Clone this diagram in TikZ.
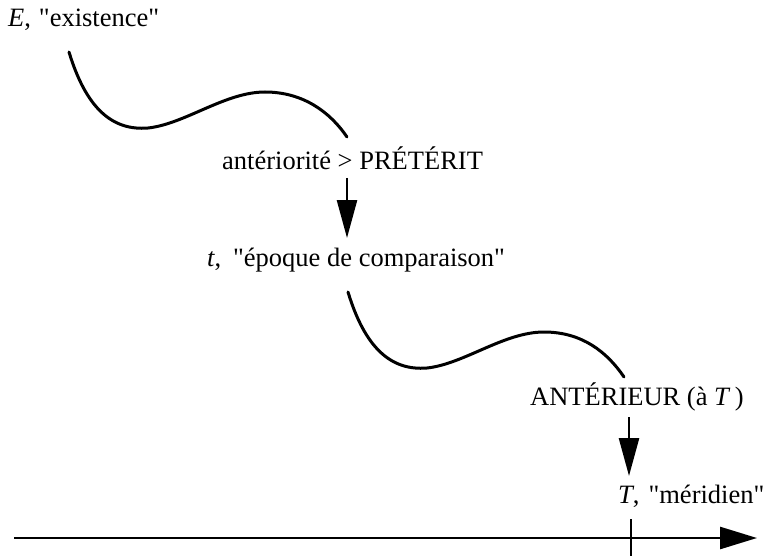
\documentclass[tikz,border=0pt]{standalone}
\usepackage{fontspec}
\setmainfont{Liberation Serif}[Ligatures=TeXOff]
\usetikzlibrary{arrows.meta}
\begin{document}
\begin{tikzpicture}[x=1pt,y=-1pt,
  lbl/.style={anchor=base west,inner sep=0pt,font=\fontsize{26.5}{30}\selectfont},
  wave/.style={line width=3pt,line cap=round},
  down/.style={line width=2.6pt,-{Triangle[width=20pt,length=38pt]}},
  axisline/.style={line width=2.6pt,-{Triangle[width=22pt,length=37pt]}}]
\useasboundingbox (0,0) rectangle (773,556);
% labels
\node[lbl] (E) at (8,27) {\textit{E},\hspace{8pt}"existence"};
\node[lbl] (ant) at (222,170) {antériorité > PRÉTÉRIT};
\node[lbl] (t) at (207,266) {\textit{t},\hspace{12pt}"époque de comparaison"};
\node[lbl] (A) at (530,405) {ANTÉRIEUR (à \textit{T}\,)};
\node[lbl] (T) at (618,503) {\textit{T},\hspace{9pt}"méridien"};
% waves
\draw[wave] (69,52) .. controls (86,108) and (112,131) .. (148,128)
  .. controls (185,124) and (225,92) .. (265,92)
  .. controls (303,92) and (330,112) .. (347,137);
\begin{scope}[shift={(279,240)}]
\draw[wave] (69,52) .. controls (86,108) and (112,131) .. (148,128)
  .. controls (185,124) and (225,92) .. (265,92)
  .. controls (303,92) and (328,112) .. (345,137);
\end{scope}
% arrows
\coordinate (a1s) at (347,178);
\coordinate (a1e) at (347,238);
\draw[down] (a1s) -- (a1e);
\coordinate (a2s) at (629,417);
\coordinate (a2e) at (629,476);
\draw[down] (a2s) -- (a2e);
% axis
\coordinate (ax0) at (14,538);
\coordinate (ax1) at (757,538);
\draw[axisline] (ax0) -- (ax1);
\coordinate (tk0) at (631,519);
\coordinate (tk1) at (631,556);
\draw[line width=2.6pt] (tk0) -- (tk1);
\end{tikzpicture}
\end{document}
